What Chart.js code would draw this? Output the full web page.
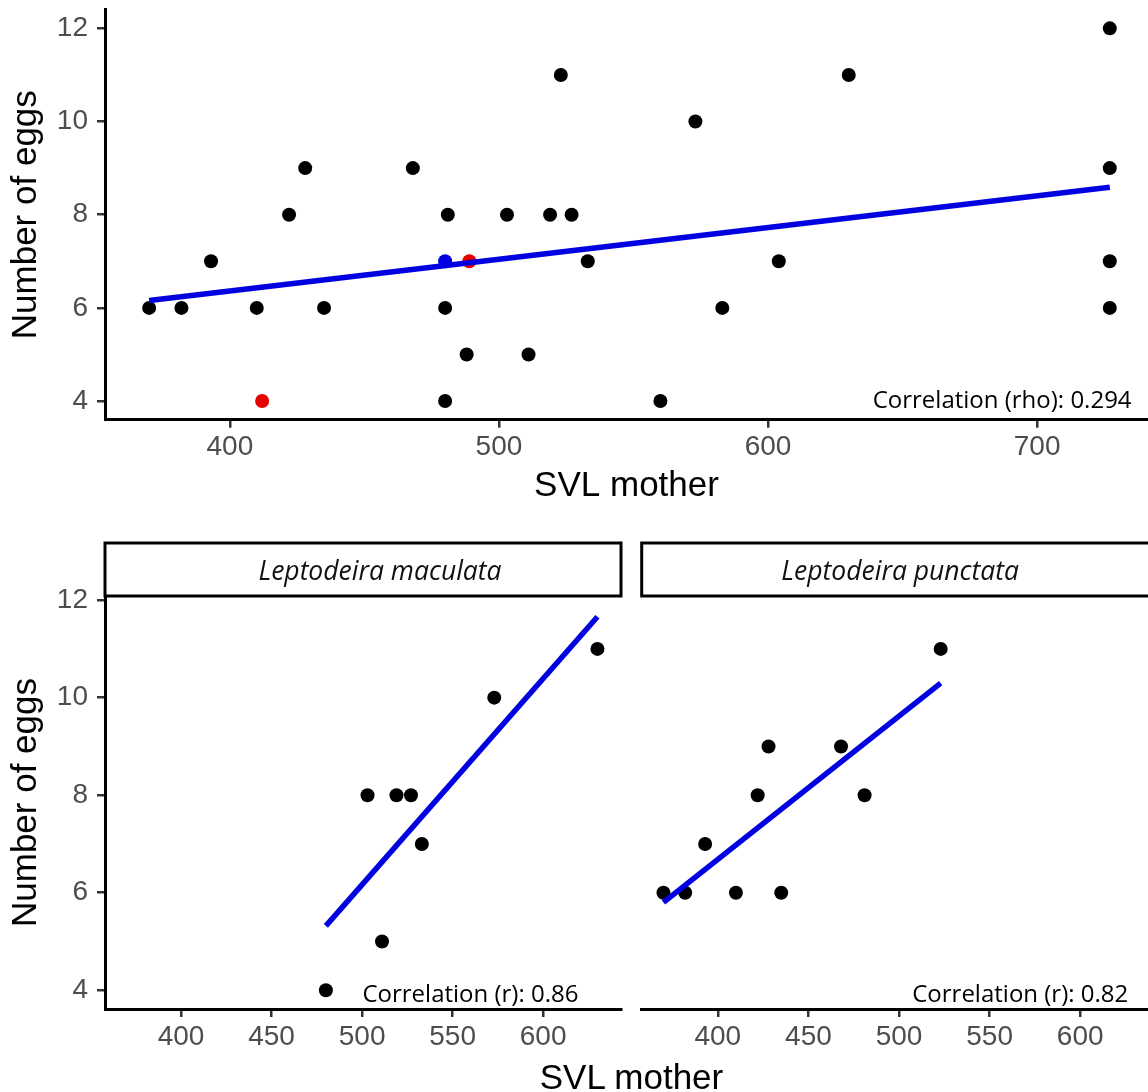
<!DOCTYPE html>
<html>
<head>
<meta charset="utf-8">
<title>Number of eggs vs SVL mother</title>
<script src="https://cdn.jsdelivr.net/npm/chart.js@4.4.1/dist/chart.umd.min.js"></script>
<style>
    html, body { margin: 0; padding: 0; background: #fff; overflow: hidden; }
    #page { position: relative; width: 1148px; height: 1092px; }
    canvas { position: absolute; }
    #topChart { left: 0; top: 0; }
    #macChart { left: 0; top: 530px; }
    #punChart { left: 630px; top: 530px; }
    #bottomTitle {
        position: absolute; left: 105px; width: 1053px; top: 1057px;
        text-align: center; white-space: nowrap; color: #000;
        font-family: "Liberation Sans", Arial, sans-serif; font-size: 35px; line-height: 40px;
    }
</style>
</head>
<body>
<div id="page">
    <canvas id="topChart" width="1148" height="520"></canvas>
    <canvas id="macChart" width="630" height="562"></canvas>
    <canvas id="punChart" width="518" height="562"></canvas>
    <div id="bottomTitle">SVL mother</div>
</div>
<script>
// All mothers (top panel)
const svlAll = [370, 382, 393, 410, 422, 428, 435, 468, 481, 480, 480, 488, 503, 511, 519, 523, 527, 533, 560, 573, 583, 604, 630, 727, 727, 727, 727];
const eggsAll = [6, 6, 7, 6, 8, 9, 6, 9, 8, 6, 4, 5, 8, 5, 8, 11, 8, 7, 4, 10, 6, 7, 11, 12, 9, 7, 6];
const svlRed = [412, 489];
const eggsRed = [4, 7];
const svlBlue = [480];
const eggsBlue = [7];

// Facets
const svlMaculata = [480, 503, 511, 519, 527, 533, 573, 630];
const eggsMaculata = [4, 8, 5, 8, 8, 7, 10, 11];
const svlPunctata = [370, 382, 393, 410, 422, 428, 435, 468, 481, 523];
const eggsPunctata = [6, 6, 7, 6, 8, 9, 6, 9, 8, 11];

// Fitted lines (ends)
const fitAllX = [370, 727];
const fitAllY = [6.16, 8.59];
const fitMacX = [480, 630];
const fitMacY = [5.32, 11.66];
const fitPunX = [370, 523];
const fitPunY = [5.80, 10.30];

// Ticks
const eggTicks = [4, 6, 8, 10, 12];
const svlTicksTop = [400, 500, 600, 700];
const svlTicksBottom = [400, 450, 500, 550, 600];

const sansFamily = "'Liberation Sans', Arial, sans-serif";
const tickFont = { family: sansFamily, size: 28 };
const titleFont = { family: sansFamily, size: 35 };
const lineBlue = "#0000E0";

function toPoints(xs, ys) {
    return xs.map((x, i) => ({ x: x, y: ys[i] }));
}

function pointSet(xs, ys, color) {
    return {
        data: toPoints(xs, ys),
        backgroundColor: color,
        borderWidth: 0,
        pointRadius: 7,
        pointHoverRadius: 7,
    };
}

function fitSet(xs, ys) {
    return {
        type: "line",
        data: toPoints(xs, ys),
        borderColor: lineBlue,
        borderWidth: 5.5,
        borderCapStyle: "butt",
        pointRadius: 0,
        fill: false,
    };
}

function xAxis(min, max, ticks, height, showTitle) {
    return {
        type: "linear",
        min: min,
        max: max,
        afterBuildTicks: (s) => { s.ticks = ticks.map((v) => ({ value: v })); },
        afterFit: (s) => { s.height = height; s.paddingLeft = 0; s.paddingRight = 0; },
        border: { display: true, color: "#000", width: 3 },
        grid: { drawOnChartArea: false, drawTicks: true, tickLength: 8, color: "#333", lineWidth: 2.5 },
        ticks: { color: "#4D4D4D", font: tickFont, padding: 3, maxRotation: 0, autoSkip: false },
        title: { display: showTitle, text: "SVL mother", color: "#000", font: titleFont, padding: { top: 0, bottom: 13 } },
    };
}

function yAxis(min, max, show) {
    return {
        type: "linear",
        display: show,
        min: min,
        max: max,
        afterBuildTicks: (s) => { s.ticks = eggTicks.map((v) => ({ value: v })); },
        afterFit: (s) => { s.width = show ? 105 : 0; s.paddingTop = 0; s.paddingBottom = 0; },
        border: { display: true, color: "#000", width: 3 },
        grid: { drawOnChartArea: false, drawTicks: true, tickLength: 8, color: "#333", lineWidth: 2.5 },
        ticks: { color: "#4D4D4D", font: tickFont, padding: 9 },
        title: { display: true, text: "Number of eggs", color: "#000", font: titleFont, padding: { top: 5.5, bottom: 0 } },
    };
}

// Correlation text and facet strips
const notesPlugin = {
    id: "notes",
    afterDatasetsDraw(chart, args, opts) {
        const ctx = chart.ctx;
        const area = chart.chartArea;
        ctx.save();
        if (opts.note) {
            ctx.font = "24px 'Open Sans'";
            ctx.fillStyle = "#000";
            ctx.textAlign = "right";
            ctx.textBaseline = "alphabetic";
            ctx.fillText(opts.note.text, chart.scales.x.getPixelForValue(opts.note.x), chart.scales.y.getPixelForValue(opts.note.y));
        }
        if (opts.strip) {
            const right = area.right + opts.strip.extra;
            ctx.fillStyle = "#fff";
            ctx.strokeStyle = "#000";
            ctx.lineWidth = 3;
            ctx.fillRect(area.left, area.top - 53, right - area.left, 53);
            ctx.strokeRect(area.left, area.top - 53, right - area.left, 53);
            ctx.font = "italic 26.5px 'Open Sans'";
            ctx.fillStyle = "#111";
            ctx.textAlign = "center";
            ctx.textBaseline = "alphabetic";
            ctx.fillText(opts.strip.text, (area.left + right) / 2 + opts.strip.shift, area.top - 16);
        }
        ctx.restore();
    },
};

function baseOptions(padding, xCfg, yCfg, notes) {
    return {
        responsive: false,
        maintainAspectRatio: false,
        animation: false,
        devicePixelRatio: 1,
        events: [],
        layout: { padding: padding, autoPadding: false },
        scales: { x: xCfg, y: yCfg },
        plugins: { legend: { display: false }, tooltip: { enabled: false }, notes: notes },
    };
}

new Chart(document.getElementById("topChart"), {
    type: "scatter",
    data: {
        datasets: [
            fitSet(fitAllX, fitAllY),
            pointSet(svlRed, eggsRed, "#E60000"),
            pointSet(svlBlue, eggsBlue, lineBlue),
            pointSet(svlAll, eggsAll, "#000"),
        ],
    },
    options: baseOptions(
        { top: 9.7, left: 0, right: 0, bottom: 0 },
        xAxis(353.6, 741.2, svlTicksTop, 100.3, true),
        yAxis(3.6, 12.4, true),
        { note: { text: "Correlation (rho): 0.294", x: 735.1, y: 3.845 } }
    ),
    plugins: [notesPlugin],
});

new Chart(document.getElementById("macChart"), {
    type: "scatter",
    data: {
        datasets: [
            fitSet(fitMacX, fitMacY),
            pointSet(svlMaculata, eggsMaculata, "#000"),
        ],
    },
    options: baseOptions(
        { top: 66, left: 0, right: 9, bottom: 0 },
        xAxis(358, 643, svlTicksBottom, 83, false),
        yAxis(3.615, 12.085, true),
        {
            note: { text: "Correlation (r): 0.86", x: 619.5, y: 3.765 },
            strip: { text: "Leptodeira maculata", extra: 0, shift: 17 },
        }
    ),
    plugins: [notesPlugin],
});

new Chart(document.getElementById("punChart"), {
    type: "scatter",
    data: {
        datasets: [
            fitSet(fitPunX, fitPunY),
            pointSet(svlPunctata, eggsPunctata, "#000"),
        ],
    },
    options: baseOptions(
        { top: 66, left: 11.7, right: 0, bottom: 0 },
        xAxis(358, 637.4, svlTicksBottom, 83, false),
        yAxis(3.615, 12.085, false),
        {
            note: { text: "Correlation (r): 0.82", x: 626.5, y: 3.765 },
            strip: { text: "Leptodeira punctata", extra: 10.7, shift: 0 },
        }
    ),
    plugins: [notesPlugin],
});
</script>
</body>
</html>
